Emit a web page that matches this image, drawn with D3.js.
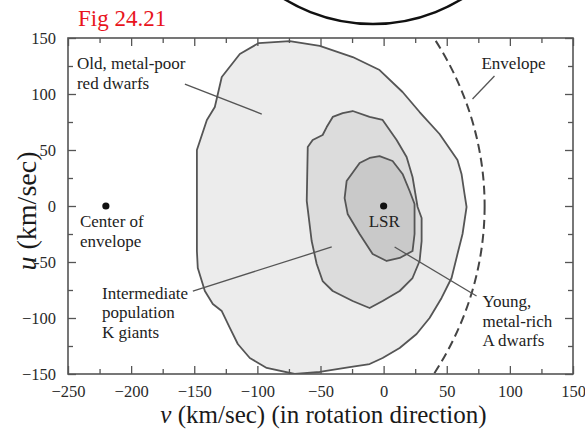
<!DOCTYPE html>
<html>
<head>
<meta charset="utf-8">
<script src="https://cdn.jsdelivr.net/npm/d3@7"></script>
<style>
  body { margin: 0; background: #fff; }
</style>
</head>
<body>
<div id="chart"></div>
<script>
// axis ticks and labels
const vTicks = [-250, -200, -150, -100, -50, 0, 50, 100, 150];
const vTickLabels = ["\u2212250", "\u2212200", "\u2212150", "\u2212100", "\u221250", "0", "50", "100", "150"];
const uTicks = [-150, -100, -50, 0, 50, 100, 150];
const uTickLabels = ["\u2212150", "\u2212100", "-50", "0", "50", "100", "150"];

// contours [v, u] in km/sec
const oldDwarfs = [
  [-98.9, 145.5], [-74.4, 147.3], [-50.6, 142.9], [-24.5, 133], [-3.2, 121.4], [15, 101.8],
  [28.5, 83.9], [44.3, 64.3], [58.5, 41.1], [61.7, 28.6], [64.1, 10.7], [65.7, -0.9],
  [62.5, -25], [58.5, -42.9], [53.8, -64.3], [45.9, -82.1], [36.4, -100], [26.1, -114.3],
  [12.7, -126.8], [-0.8, -135.7], [-11.1, -141.1], [-26.9, -143.8], [-50.6, -148.2], [-70.4, -150],
  [-92.6, -144.6], [-106, -135.7], [-115.5, -123.2], [-121.8, -108.9], [-128.2, -93.8], [-135.3, -87.5],
  [-141.6, -75.9], [-147.2, -55.4], [-147.9, -40.2], [-147.9, -0.9], [-147.9, 50], [-140, 76.8],
  [-133.7, 88.4], [-128.2, 115.2], [-113.9, 135.7]
];
const kGiants = [
  [-24.5, 84.8], [-11.1, 79.5], [-0.8, 76.8], [10.3, 58.9], [18.2, 43.8], [22.9, 25.9],
  [26.9, -0.9], [30.1, -10.7], [30.1, -31.3], [28.5, -49.1], [22.9, -64.3], [12.7, -75.9],
  [-0.8, -84.8], [-11.1, -91.1], [-15, -89.3], [-24.5, -84.8], [-40.3, -75.9], [-48.3, -67],
  [-53, -51.8], [-57, -31.3], [-60.9, 4.5], [-60.1, 52.7], [-56.2, 58.9], [-48.3, 63.4],
  [-45.1, 70.5], [-40.3, 79.5], [-32.4, 83]
];
const aDwarfs = [
  [-3.2, 44.6], [7.1, 40.2], [15, 28.6], [20.6, 13.4], [24.5, 1.8], [24.5, -25],
  [22.9, -40.2], [12.7, -46.4], [2.4, -49.1], [-8.7, -42.9], [-19, -25], [-28.5, -7.1],
  [-30.9, 7.1], [-29.3, 22.3], [-19, 38.4], [-11.1, 42.9]
];

// envelope circle
const envelopeCenter = [-220, 0];
const envelopeRadius = 300;
const lsr = [0, 0];

const serif = '"Liberation Serif", "Times New Roman", Times, serif';
const width = 585, height = 434;
const margin = {top: 38, right: 12, bottom: 60, left: 68};

const svg = d3.select("#chart")
  .append("svg")
  .attr("width", width)
  .attr("height", height);

const x = d3.scaleLinear().domain([-250, 150]).range([margin.left, width - margin.right]);
const y = d3.scaleLinear().domain([-150, 150]).range([height - margin.bottom, margin.top]);

// decorative circle above the plot (cut by the page top)
svg.append("circle")
  .attr("cx", 373).attr("cy", -146).attr("r", 170)
  .attr("fill", "none").attr("stroke", "#111").attr("stroke-width", 2.5);

svg.append("text")
  .attr("x", 78).attr("y", 26)
  .attr("fill", "#e8141c")
  .style("font-family", serif)
  .style("font-size", "23px")
  .text("Fig 24.21");

svg.append("clipPath").attr("id", "plot")
  .append("rect")
  .attr("x", x(-250)).attr("y", y(150))
  .attr("width", x(150) - x(-250)).attr("height", y(-150) - y(150));

const line = d3.line()
  .x(d => x(d[0]))
  .y(d => y(d[1]))
  .curve(d3.curveLinearClosed);

const contours = svg.append("g").attr("clip-path", "url(#plot)");
[[oldDwarfs, "#ececec"], [kGiants, "#dcdcdc"], [aDwarfs, "#c9c9c9"]].forEach(([pts, fill]) => {
  contours.append("path")
    .attr("d", line(pts))
    .attr("fill", fill)
    .attr("stroke", "#555")
    .attr("stroke-width", 1.8)
    .attr("stroke-linejoin", "round");
});

contours.append("ellipse")
  .attr("cx", x(envelopeCenter[0]))
  .attr("cy", y(envelopeCenter[1]))
  .attr("rx", x(envelopeCenter[0] + envelopeRadius) - x(envelopeCenter[0]))
  .attr("ry", y(envelopeCenter[1] - envelopeRadius) - y(envelopeCenter[1]))
  .attr("fill", "none")
  .attr("stroke", "#444")
  .attr("stroke-width", 2)
  .attr("stroke-dasharray", "9,5");

// axes with inward ticks
const minorV = d3.range(-225, 150, 50);
const minorU = d3.range(-125, 150, 50);
const fmtV = d => vTickLabels[vTicks.indexOf(d)];
const fmtU = d => uTickLabels[uTicks.indexOf(d)];

function styleAxis(g) {
  g.select(".domain").remove();
  g.selectAll(".tick line").attr("stroke", "#555").attr("stroke-width", 1.3);
  g.selectAll(".tick text").attr("fill", "#2a2a2a")
    .style("font-family", serif).style("font-size", "16.5px");
}

const yb = y(-150), yt = y(150), xl = x(-250), xr = x(150);

svg.append("g").attr("transform", `translate(0,${yb})`)
  .call(d3.axisBottom(x).tickValues(vTicks).tickFormat(fmtV).tickSizeInner(-8).tickSizeOuter(0).tickPadding(11))
  .call(styleAxis);
svg.append("g").attr("transform", `translate(0,${yb})`)
  .call(d3.axisBottom(x).tickValues(minorV).tickFormat("").tickSizeInner(-5).tickSizeOuter(0))
  .call(styleAxis);
svg.append("g").attr("transform", `translate(0,${yt})`)
  .call(d3.axisTop(x).tickValues(vTicks).tickFormat("").tickSizeInner(-8).tickSizeOuter(0))
  .call(styleAxis);
svg.append("g").attr("transform", `translate(0,${yt})`)
  .call(d3.axisTop(x).tickValues(minorV).tickFormat("").tickSizeInner(-5).tickSizeOuter(0))
  .call(styleAxis);

svg.append("g").attr("transform", `translate(${xl},0)`)
  .call(d3.axisLeft(y).tickValues(uTicks).tickFormat(fmtU).tickSizeInner(-8).tickSizeOuter(0).tickPadding(12))
  .call(styleAxis);
svg.append("g").attr("transform", `translate(${xl},0)`)
  .call(d3.axisLeft(y).tickValues(minorU).tickFormat("").tickSizeInner(-5).tickSizeOuter(0))
  .call(styleAxis);
svg.append("g").attr("transform", `translate(${xr},0)`)
  .call(d3.axisRight(y).tickValues(uTicks).tickFormat("").tickSizeInner(-8).tickSizeOuter(0))
  .call(styleAxis);
svg.append("g").attr("transform", `translate(${xr},0)`)
  .call(d3.axisRight(y).tickValues(minorU).tickFormat("").tickSizeInner(-5).tickSizeOuter(0))
  .call(styleAxis);

svg.append("rect")
  .attr("x", xl).attr("y", yt).attr("width", xr - xl).attr("height", yb - yt)
  .attr("fill", "none").attr("stroke", "#555").attr("stroke-width", 1.6);

// axis titles
const xTitle = svg.append("text")
  .attr("x", (xl + xr) / 2 + 3).attr("y", 423)
  .attr("text-anchor", "middle").attr("fill", "#1a1a1a")
  .style("font-family", serif).style("font-size", "25px");
xTitle.append("tspan").style("font-style", "italic").text("v");
xTitle.append("tspan").text(" (km/sec) (in rotation direction)");

const yTitle = svg.append("text")
  .attr("transform", `translate(36,${y(0) + 5}) rotate(-90)`)
  .attr("text-anchor", "middle").attr("fill", "#1a1a1a")
  .style("font-family", serif).style("font-size", "28px");
yTitle.append("tspan").style("font-style", "italic").text("u");
yTitle.append("tspan").text(" (km/sec)");

// annotations
const pointers = [
  [[-157.4, 108.9], [-96.5, 82.1]],
  [[87.8, 116.1], [70.4, 95.5]],
  [[-151.1, -75.9], [-41.1, -36.6]],
  [[8.7, -36.6], [73.6, -80.4]]
];
pointers.forEach(p => {
  svg.append("line")
    .attr("x1", x(p[0][0])).attr("y1", y(p[0][1]))
    .attr("x2", x(p[1][0])).attr("y2", y(p[1][1]))
    .attr("stroke", "#555").attr("stroke-width", 1.3);
});

[envelopeCenter, lsr].forEach(d => {
  svg.append("circle").attr("cx", x(d[0])).attr("cy", y(d[1])).attr("r", 3.6).attr("fill", "#111");
});

const notes = [
  {at: [-242.9, 122.3], lines: ["Old, metal-poor", "red dwarfs"], anchor: "start"},
  {at: [77.5, 122.3], lines: ["Envelope"], anchor: "start"},
  {at: [-240.5, -18.75], lines: ["Center of", "envelope"], anchor: "start"},
  {at: [-223, -83], lines: ["Intermediate", "population", "K giants"], anchor: "start"},
  {at: [0.5, -18.75], lines: ["LSR"], anchor: "middle"},
  {at: [78.3, -90.2], lines: ["Young,", "metal-rich", "A dwarfs"], anchor: "start"}
];
notes.forEach(n => {
  const t = svg.append("text")
    .attr("x", x(n.at[0])).attr("y", y(n.at[1]))
    .attr("text-anchor", n.anchor).attr("fill", "#222")
    .style("font-family", serif).style("font-size", "17px");
  n.lines.forEach((s, i) => {
    t.append("tspan").attr("x", x(n.at[0])).attr("dy", i === 0 ? 0 : 19.5).text(s);
  });
});
</script>
</body>
</html>
